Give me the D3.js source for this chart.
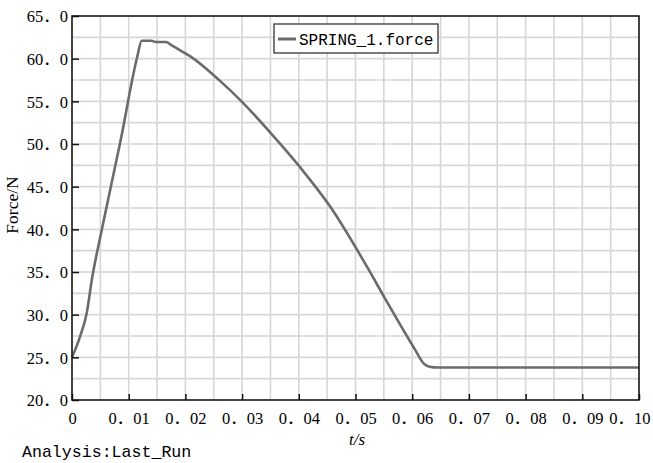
<!DOCTYPE html>
<html>
<head>
<meta charset="utf-8">
<script src="https://cdn.jsdelivr.net/npm/d3@7"></script>
<style>
  html, body { margin: 0; padding: 0; background: #fff; }
  svg { display: block; }
</style>
</head>
<body>
<div id="chart"></div>
<script>
// Spring force over time (s, N)
const timeValues  = [0, 0.0014, 0.0026, 0.0035, 0.0053, 0.0086, 0.0115, 0.0123, 0.0140, 0.0148, 0.0166, 0.0175, 0.0190, 0.0208, 0.0261, 0.0299, 0.0349, 0.0402, 0.0455, 0.0523, 0.0552, 0.0605, 0.0620, 0.0631, 0.0645, 0.1000];
const forceValues = [25.0, 27.4, 30.2, 34.1, 40.1, 50.5, 60.2, 62.1, 62.1, 61.95, 61.95, 61.6, 61.0, 60.3, 57.4, 55.0, 51.4, 47.3, 42.7, 35.3, 31.9, 25.9, 24.3, 23.9, 23.8, 23.8];
const seriesName = "SPRING_1.force";

const xTickValues = [0, 0.01, 0.02, 0.03, 0.04, 0.05, 0.06, 0.07, 0.08, 0.09, 0.10];
const xTickLabels = ["0", "0．01", "0．02", "0．03", "0．04", "0．05", "0．06", "0．07", "0．08", "0．09", "0．10"];
const yTickValues = [20, 25, 30, 35, 40, 45, 50, 55, 60, 65];
const yTickLabels = ["20．0", "25．0", "30．0", "35．0", "40．0", "45．0", "50．0", "55．0", "60．0", "65．0"];
const xGridValues = d3.range(0, 0.1001, 0.005);
const yGridValues = d3.range(20, 65.01, 2.5);

const W = 653, H = 463;
const plotLeft = 72, plotRight = 639, plotTop = 16, plotBottom = 400;

const svg = d3.select("#chart").append("svg")
  .attr("width", W).attr("height", H);

svg.append("rect").attr("width", W).attr("height", H).attr("fill", "#fff");

const x = d3.scaleLinear().domain([0, 0.1]).range([plotLeft, plotRight]);
const y = d3.scaleLinear().domain([20, 65]).range([plotBottom, plotTop]);

// grid
const grid = svg.append("g").attr("stroke", "#d6d6d6").attr("stroke-width", 1.6);
grid.selectAll("line.v").data(xGridValues).join("line").attr("class", "v")
  .attr("x1", d => x(d)).attr("x2", d => x(d))
  .attr("y1", plotTop).attr("y2", plotBottom);
grid.selectAll("line.h").data(yGridValues).join("line").attr("class", "h")
  .attr("x1", plotLeft).attr("x2", plotRight)
  .attr("y1", d => y(d)).attr("y2", d => y(d));

// curve
const data = timeValues.map((t, i) => ({ t, f: forceValues[i] }));
const line = d3.line().curve(d3.curveMonotoneX).x(d => x(d.t)).y(d => y(d.f));
svg.append("path").datum(data)
  .attr("d", line)
  .attr("fill", "none")
  .attr("stroke", "#6b6b6b")
  .attr("stroke-width", 2.6)
  .attr("stroke-linejoin", "round");

// frame
svg.append("rect")
  .attr("x", plotLeft).attr("y", plotTop)
  .attr("width", plotRight - plotLeft).attr("height", plotBottom - plotTop)
  .attr("fill", "none").attr("stroke", "#111").attr("stroke-width", 1.5);

const numFont = "'Liberation Serif', 'Noto Sans CJK SC', serif";

// y axis (inward ticks)
const yAxis = d3.axisLeft(y).tickValues(yTickValues).tickSize(-7).tickFormat("");
const gy = svg.append("g").attr("transform", `translate(${plotLeft},0)`).call(yAxis);
gy.select(".domain").remove();
gy.selectAll(".tick line").attr("stroke", "#111").attr("stroke-width", 1.5);
gy.selectAll(".tick").append("text")
  .attr("x", -4).attr("dy", "0.36em")
  .attr("text-anchor", "end")
  .attr("fill", "#000")
  .style("font-family", numFont).style("font-size", "16.5px")
  .text((d, i) => yTickLabels[i]);

// x axis (inward ticks)
const xAxis = d3.axisBottom(x).tickValues(xTickValues).tickSize(-6).tickFormat("");
const gx = svg.append("g").attr("transform", `translate(0,${plotBottom})`).call(xAxis);
gx.select(".domain").remove();
gx.selectAll(".tick line").attr("stroke", "#111").attr("stroke-width", 1.5);
gx.selectAll(".tick").append("text")
  .attr("y", 24)
  .attr("text-anchor", "middle")
  .attr("fill", "#000")
  .style("font-family", numFont).style("font-size", "16.5px")
  .text((d, i) => xTickLabels[i]);
// keep the last label inside the canvas
gx.selectAll(".tick text").each(function(d) {
  const bb = this.getBBox();
  const overflow = x(d) + bb.x + bb.width - (W - 3);
  if (overflow > 0) d3.select(this).attr("x", -overflow);
});

// axis titles
svg.append("text")
  .attr("transform", `translate(18,205) rotate(-90)`)
  .attr("text-anchor", "middle")
  .attr("fill", "#000")
  .style("font-family", "'Liberation Serif', serif").style("font-size", "17.5px")
  .text("Force/N");

svg.append("text")
  .attr("x", 357).attr("y", 445)
  .attr("text-anchor", "middle")
  .attr("fill", "#000")
  .style("font-family", "'Liberation Serif', serif").style("font-size", "17px")
  .style("font-style", "italic")
  .text("t/s");

svg.append("text")
  .attr("x", 22).attr("y", 457)
  .attr("fill", "#000")
  .style("font-family", "'Liberation Mono', monospace").style("font-size", "16.6px")
  .text("Analysis:Last_Run");

// legend
const lg = svg.append("g");
lg.append("rect")
  .attr("x", 274).attr("y", 24).attr("width", 164).attr("height", 29)
  .attr("fill", "#fff").attr("stroke", "#333").attr("stroke-width", 1.3);
lg.append("line")
  .attr("x1", 278).attr("x2", 296).attr("y1", 39).attr("y2", 39)
  .attr("stroke", "#6b6b6b").attr("stroke-width", 3);
lg.append("text")
  .attr("x", 299).attr("y", 45)
  .attr("fill", "#000")
  .style("font-family", "'Liberation Mono', monospace").style("font-size", "16px")
  .text(seriesName);
</script>
</body>
</html>
